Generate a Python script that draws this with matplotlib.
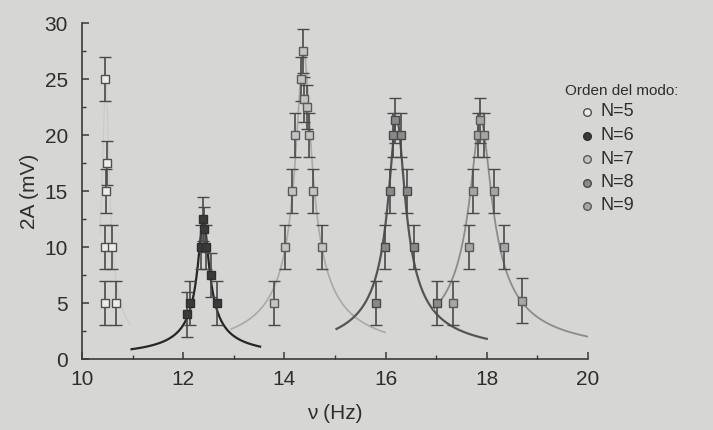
import numpy as np
import matplotlib
matplotlib.use("Agg")
import matplotlib.pyplot as plt

plt.rcParams['font.family'] = ['Liberation Sans', 'DejaVu Sans']

# -----------------------------
# Data
# -----------------------------
labels = ["N=5", "N=6", "N=7", "N=8", "N=9"]

freq_n5 = [10.45, 10.49, 10.47, 10.45, 10.60, 10.45, 10.68]
amp_n5 = [25.0, 17.5, 15.0, 10.0, 10.0, 5.0, 5.0]

freq_n6 = [12.08, 12.13, 12.35, 12.40, 12.42, 12.45, 12.55, 12.66]
amp_n6 = [4.0, 5.0, 10.0, 12.5, 11.6, 10.0, 7.5, 5.0]

freq_n7 = [13.79, 14.01, 14.16, 14.21, 14.32, 14.37, 14.39, 14.45, 14.49, 14.56, 14.74]
amp_n7 = [5.0, 10.0, 15.0, 20.0, 25.0, 27.5, 23.2, 22.5, 20.0, 15.0, 10.0]

freq_n8 = [15.81, 15.99, 16.09, 16.15, 16.19, 16.30, 16.42, 16.56, 17.01]
amp_n8 = [5.0, 10.0, 15.0, 20.0, 21.3, 20.0, 15.0, 10.0, 5.0]

freq_n9 = [17.34, 17.65, 17.73, 17.83, 17.87, 17.94, 18.14, 18.33, 18.69]
amp_n9 = [5.0, 10.0, 15.0, 20.0, 21.3, 20.0, 15.0, 10.0, 5.2]

err = 2.0

# fitted resonance curves: centre, peak, half width, start, end
fit_centre = [10.47, 12.40, 14.38, 16.22, 17.88]
fit_peak = [25.0, 12.5, 27.5, 21.5, 21.3]
fit_width = [0.06, 0.10, 0.14, 0.15, 0.20]
fit_start = [10.35, 10.98, 12.95, 15.03, 16.95]
fit_end = [10.95, 13.52, 15.99, 18.00, 20.00]

# -----------------------------
# Styles
# -----------------------------
fills = ["#ececec", "#3a3a3a", "#c4c4c4", "#8a8a8a", "#a6a6a6"]
edges = ["#505050", "#2e2e2e", "#5a5a5a", "#4a4a4a", "#5a5a5a"]
curve_colors = ["#cacaca", "#262626", "#a9a9a9", "#555555", "#8c8c8c"]
curve_widths = [0.8, 1.6, 1.2, 1.6, 1.3]
bg = "#d6d6d4"
ink = "#2e2e2e"

W, H = 713, 430
fig = plt.figure(figsize=(W / 100, H / 100), dpi=100, facecolor=bg)
ax = fig.add_axes([0.115, 0.165, 0.7097, 0.7814])
ax.set_facecolor(bg)

freqs = [freq_n5, freq_n6, freq_n7, freq_n8, freq_n9]
amps = [amp_n5, amp_n6, amp_n7, amp_n8, amp_n9]

for i in range(5):
    xs = np.linspace(fit_start[i], fit_end[i], 300)
    ys = fit_peak[i] / np.sqrt(1 + ((xs - fit_centre[i]) / fit_width[i]) ** 2)
    ax.plot(xs, ys, color=curve_colors[i], lw=curve_widths[i], zorder=2)

for i in range(5):
    ax.errorbar(freqs[i], amps[i], yerr=err, fmt='s', ms=5.5,
                mfc=fills[i], mec=edges[i], mew=1.0,
                ecolor="#4a4a4a", elinewidth=1.2, capsize=4, capthick=1.2,
                zorder=3)

ax.set_xlim(10, 20)
ax.set_ylim(0, 30)
ax.set_xticks([10, 12, 14, 16, 18, 20])
ax.set_xticks([11, 13, 15, 17, 19], minor=True)
ax.set_yticks([0, 5, 10, 15, 20, 25, 30])
ax.set_yticks([2.5, 7.5, 12.5, 17.5, 22.5, 27.5], minor=True)

for side in ["top", "right"]:
    ax.spines[side].set_visible(False)
for side in ["left", "bottom"]:
    ax.spines[side].set_color("#3a3a3a")
    ax.spines[side].set_linewidth(1.2)

ax.tick_params(which="major", direction="in", length=5, width=1.1,
               color="#3a3a3a", labelsize=15, labelcolor=ink)
ax.tick_params(which="minor", direction="in", length=3, width=1.0,
               color="#3a3a3a")
ax.tick_params(axis="x", which="major", pad=8)
ax.tick_params(axis="y", which="major", pad=10)

ax.set_xlabel("\u03bd (Hz)", fontsize=15, color=ink, labelpad=11)
ax.set_ylabel("2A (mV)", fontsize=15, color=ink, labelpad=4)

# legend block drawn by hand (pixel positions from the top-left corner)
fig.text(565 / W, 1 - 91 / H, "Orden del modo:", fontsize=11,
         color=ink, ha="left", va="center")
for i, lab in enumerate(labels):
    yy = 1 - (112 + 23.5 * i) / H
    fig.lines.append(plt.Line2D([587 / W], [yy], transform=fig.transFigure,
                                ls="none", marker="o", ms=5.5,
                                mfc=fills[i], mec=edges[i], mew=1.0))
    fig.text(600 / W, yy, lab, fontsize=13, color=ink,
             ha="left", va="center")

fig.savefig("out.png", dpi=100, facecolor=bg)
